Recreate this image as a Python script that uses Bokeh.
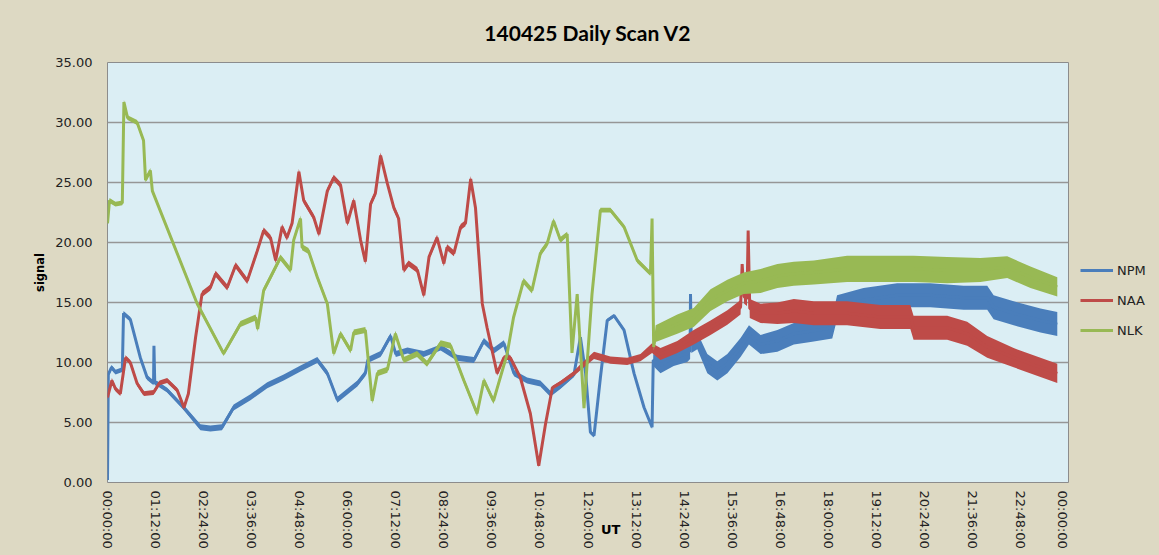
import numpy as np
from bokeh.plotting import figure
from bokeh.layouts import row
from bokeh.models import (ColumnDataSource, FixedTicker, Legend, LegendItem,
                          PrintfTickFormatter, Range1d)
from bokeh.embed import file_html
from bokeh.resources import INLINE

title_text = "140425 Daily Scan V2"
series_names = ["NPM", "NAA", "NLK"]
series_colors = ["#4a7ebb", "#be4b48", "#98b954"]
x_tick_labels = ["00:00:00", "01:12:00", "02:24:00", "03:36:00", "04:48:00", "06:00:00",
                 "07:12:00", "08:24:00", "09:36:00", "10:48:00", "12:00:00", "13:12:00",
                 "14:24:00", "15:36:00", "16:48:00", "18:00:00", "19:12:00", "20:24:00",
                 "21:36:00", "22:48:00", "00:00:00"]
y_ticks = [0, 5, 10, 15, 20, 25, 30, 35]

# (hour UT, signal, noise half-width)
npm_points = [
    (0.00, 0.2, 0.0), (0.02, 9.0, 0.2), (0.10, 9.6, 0.2), (0.20, 9.2, 0.2), (0.37, 9.4, 0.2),
    (0.40, 14.1, 0.2), (0.57, 13.6, 0.2), (0.82, 10.4, 0.2), (0.99, 8.75, 0.2), (1.15, 8.3, 0.2),
    (1.16, 11.4, 0.05), (1.18, 8.3, 0.2), (1.24, 8.25, 0.2), (1.49, 7.7, 0.2), (1.90, 6.25, 0.2),
    (2.32, 4.6, 0.25), (2.57, 4.5, 0.25), (2.86, 4.6, 0.25), (3.15, 6.25, 0.25), (3.57, 7.1, 0.25),
    (3.99, 8.1, 0.25), (4.40, 8.75, 0.25), (4.82, 9.5, 0.25), (5.24, 10.2, 0.25), (5.49, 9.1, 0.25),
    (5.74, 6.9, 0.25), (6.07, 7.8, 0.25), (6.24, 8.25, 0.25), (6.44, 9.1, 0.25), (6.50, 10.2, 0.25),
    (6.82, 10.7, 0.25), (7.07, 12.2, 0.25), (7.20, 10.7, 0.25), (7.49, 11.0, 0.25), (7.90, 10.7, 0.25),
    (8.32, 11.25, 0.25), (8.73, 10.4, 0.25), (9.15, 10.2, 0.25), (9.40, 11.8, 0.25), (9.65, 11.0, 0.25),
    (9.90, 11.6, 0.25), (10.15, 9.1, 0.25), (10.48, 8.5, 0.25), (10.81, 8.25, 0.25), (11.06, 7.4, 0.25),
    (11.31, 8.0, 0.2), (11.65, 9.0, 0.2), (11.81, 12.1, 0.15), (11.94, 9.1, 0.15), (12.06, 4.2, 0.15),
    (12.15, 3.9, 0.15), (12.31, 8.75, 0.15), (12.48, 13.5, 0.15), (12.65, 13.9, 0.15), (12.90, 12.7, 0.15),
    (13.15, 9.1, 0.15), (13.40, 6.25, 0.15), (13.60, 4.6, 0.15), (13.63, 10.2, 0.5), (13.81, 9.8, 0.7),
    (14.14, 10.4, 0.7), (14.48, 10.75, 0.7), (14.55, 11.0, 0.7), (14.56, 15.7, 0.1), (14.58, 11.5, 0.7),
    (14.73, 11.8, 0.7), (14.98, 9.9, 0.8), (15.23, 9.3, 0.8), (15.48, 9.9, 0.8), (15.81, 11.25, 0.8),
    (16.02, 12.3, 0.8), (16.31, 11.5, 0.8), (16.73, 11.8, 0.9), (17.14, 12.4, 0.9), (17.56, 12.6, 0.9),
    (18.10, 12.9, 0.9), (18.22, 14.6, 1.0), (18.88, 15.2, 1.0), (19.72, 15.6, 1.0), (20.55, 15.6, 1.0),
    (21.38, 15.4, 1.0), (21.97, 15.4, 1.0), (22.13, 14.6, 1.0), (22.63, 14.1, 1.0), (23.30, 13.5, 1.0),
    (23.72, 13.2, 1.0),
]

naa_points = [
    (0.00, 7.1, 0.2), (0.11, 8.5, 0.2), (0.20, 7.8, 0.2), (0.32, 7.4, 0.2), (0.45, 10.4, 0.2),
    (0.57, 10.0, 0.2), (0.74, 8.25, 0.2), (0.91, 7.4, 0.2), (1.15, 7.5, 0.2), (1.30, 8.3, 0.2),
    (1.49, 8.5, 0.2), (1.74, 7.7, 0.2), (1.91, 6.25, 0.2), (2.02, 7.4, 0.2), (2.20, 12.1, 0.2),
    (2.36, 15.7, 0.25), (2.57, 16.25, 0.25), (2.70, 17.4, 0.25), (2.99, 16.25, 0.25), (3.20, 18.1, 0.25),
    (3.49, 16.8, 0.25), (3.74, 19.3, 0.25), (3.90, 21.0, 0.25), (4.07, 20.4, 0.25), (4.20, 18.5, 0.25),
    (4.36, 21.3, 0.25), (4.48, 20.4, 0.25), (4.61, 21.6, 0.25), (4.78, 25.9, 0.25), (4.90, 23.5, 0.25),
    (5.15, 22.1, 0.25), (5.28, 20.7, 0.25), (5.49, 24.3, 0.25), (5.65, 25.4, 0.25), (5.82, 24.8, 0.25),
    (5.99, 21.6, 0.25), (6.15, 23.5, 0.25), (6.32, 20.2, 0.25), (6.44, 18.4, 0.25), (6.57, 23.2, 0.25),
    (6.69, 24.1, 0.25), (6.82, 27.25, 0.25), (6.99, 24.9, 0.25), (7.15, 22.9, 0.25), (7.27, 22.0, 0.25),
    (7.40, 17.7, 0.25), (7.52, 18.25, 0.25), (7.74, 17.7, 0.25), (7.90, 15.6, 0.25), (8.03, 18.8, 0.25),
    (8.23, 20.4, 0.25), (8.40, 18.25, 0.25), (8.48, 19.6, 0.25), (8.65, 19.1, 0.25), (8.82, 21.3, 0.25),
    (8.94, 21.6, 0.25), (9.07, 25.3, 0.25), (9.19, 22.9, 0.2), (9.36, 14.9, 0.2), (9.48, 12.9, 0.2),
    (9.73, 9.1, 0.2), (9.90, 10.4, 0.2), (10.06, 10.4, 0.2), (10.31, 8.75, 0.15), (10.56, 5.75, 0.15),
    (10.77, 1.4, 0.15), (10.94, 4.9, 0.15), (11.11, 7.9, 0.15), (11.31, 8.3, 0.15), (11.65, 9.1, 0.2),
    (11.81, 9.6, 0.25), (12.15, 10.6, 0.3), (12.56, 10.2, 0.3), (12.98, 10.1, 0.3), (13.31, 10.4, 0.3),
    (13.60, 11.2, 0.4), (13.81, 10.7, 0.5), (14.23, 11.3, 0.5), (14.64, 12.1, 0.6), (15.06, 12.9, 0.6),
    (15.48, 13.75, 0.6), (15.81, 14.6, 0.6), (15.85, 18.2, 0.1), (15.90, 15.5, 0.6), (15.97, 15.3, 0.6),
    (16.00, 21.0, 0.1), (16.04, 14.5, 0.8), (16.31, 14.1, 0.8), (16.73, 14.1, 0.9), (17.14, 14.3, 1.0),
    (17.64, 14.1, 1.0), (18.47, 14.1, 1.0), (19.30, 13.8, 1.0), (20.05, 13.8, 1.0), (20.13, 12.9, 1.0),
    (20.97, 12.9, 1.0), (21.47, 12.4, 1.0), (21.97, 11.3, 0.9), (22.63, 10.4, 0.8), (23.30, 9.6, 0.8),
    (23.72, 9.1, 0.8),
]

nlk_points = [
    (0.00, 21.6, 0.2), (0.05, 23.5, 0.2), (0.20, 23.2, 0.2), (0.37, 23.3, 0.2), (0.41, 31.7, 0.2),
    (0.50, 30.4, 0.2), (0.74, 30.0, 0.2), (0.90, 28.5, 0.2), (0.95, 25.2, 0.2), (1.07, 26.0, 0.2),
    (1.12, 24.3, 0.2), (2.24, 14.9, 0.2), (2.90, 10.75, 0.2), (3.32, 13.2, 0.25), (3.70, 13.75, 0.25),
    (3.75, 12.8, 0.25), (3.90, 16.0, 0.25), (4.07, 17.1, 0.25), (4.32, 18.75, 0.25), (4.57, 17.7, 0.25),
    (4.65, 20.2, 0.25), (4.82, 22.0, 0.25), (4.86, 19.6, 0.25), (5.02, 19.3, 0.25), (5.24, 17.1, 0.25),
    (5.49, 14.9, 0.25), (5.65, 10.75, 0.25), (5.82, 12.4, 0.25), (6.07, 11.0, 0.25), (6.15, 12.5, 0.25),
    (6.44, 12.7, 0.25), (6.61, 6.8, 0.25), (6.74, 9.1, 0.25), (6.99, 9.4, 0.25), (7.19, 12.4, 0.25),
    (7.40, 10.2, 0.25), (7.73, 10.7, 0.25), (7.98, 9.9, 0.25), (8.32, 11.6, 0.25), (8.57, 11.4, 0.25),
    (8.90, 8.5, 0.25), (9.23, 5.75, 0.25), (9.40, 8.5, 0.25), (9.64, 6.8, 0.25), (9.98, 10.7, 0.25),
    (10.14, 13.75, 0.25), (10.39, 16.8, 0.25), (10.60, 16.0, 0.25), (10.81, 19.1, 0.25), (10.98, 19.9, 0.25),
    (11.14, 21.8, 0.25), (11.31, 20.2, 0.25), (11.48, 20.7, 0.2), (11.60, 10.8, 0.1), (11.73, 15.7, 0.1),
    (11.90, 6.2, 0.1), (12.10, 15.7, 0.1), (12.31, 22.7, 0.2), (12.56, 22.7, 0.2), (12.90, 21.3, 0.2),
    (13.23, 18.5, 0.2), (13.56, 17.4, 0.2), (13.60, 22.0, 0.05), (13.64, 11.3, 0.3), (13.69, 12.4, 0.7),
    (14.23, 13.2, 0.8), (14.64, 13.75, 0.8), (15.06, 15.2, 0.9), (15.48, 16.0, 0.9), (15.89, 16.6, 0.9),
    (16.31, 16.8, 1.0), (16.73, 17.2, 1.0), (17.14, 17.4, 1.0), (17.64, 17.5, 1.0), (18.47, 17.8, 1.1),
    (19.30, 17.8, 1.1), (20.13, 17.8, 1.1), (20.97, 17.7, 1.1), (21.80, 17.7, 1.0), (22.47, 17.95, 0.9),
    (23.05, 17.1, 0.9), (23.72, 16.3, 0.8),
]

all_points = [npm_points, naa_points, nlk_points]

BEIGE = "#ddd9c3"

p = figure(width=1069, height=555, output_backend="svg", toolbar_location=None,
           x_range=Range1d(0, 1440), y_range=Range1d(0, 35),
           min_border_left=107, min_border_right=1, min_border_top=62, min_border_bottom=73)

p.border_fill_color = BEIGE
p.background_fill_color = "#dbeef4"
p.outline_line_color = "#8c8c8c"
p.outline_line_width = 1

p.title.text = title_text
p.title.align = "center"
p.title.text_font = "Lato"
p.title.text_font_style = "bold"
p.title.text_font_size = "21px"
p.title.text_color = "#000000"
p.title.standoff = 35

line_renderers = []
for pts, color in zip(all_points, series_colors):
    arr = np.array(pts, dtype=float)
    minutes = arr[:, 0] * 60.0
    vals = arr[:, 1]
    noise = arr[:, 2]
    src = ColumnDataSource(dict(x=minutes, y=vals, lo=vals - noise, hi=vals + noise))
    p.varea(x="x", y1="lo", y2="hi", source=src, fill_color=color, fill_alpha=1.0)
    r = p.line(x="x", y="y", source=src, line_color=color, line_width=3)
    line_renderers.append(r)

# axes
p.yaxis.ticker = FixedTicker(ticks=y_ticks)
p.yaxis.formatter = PrintfTickFormatter(format="%.2f")
p.yaxis.axis_label = "signal"
p.yaxis.axis_label_text_font = "DejaVu Sans"
p.yaxis.axis_label_text_font_style = "bold"
p.yaxis.axis_label_text_font_size = "11.5px"
p.yaxis.axis_label_text_color = "#000000"
p.yaxis.axis_label_standoff = 5

x_ticks = [72 * i for i in range(len(x_tick_labels))]
p.xaxis.ticker = FixedTicker(ticks=x_ticks)
p.xaxis.major_label_overrides = {t: lbl for t, lbl in zip(x_ticks, x_tick_labels)}
p.xaxis.major_label_orientation = -np.pi / 2
# axis title sits between the 12:00:00 and 13:12:00 labels, as in the source chart
p.xaxis.axis_label = "\u00a0" * 10 + "UT"
p.xaxis.axis_label_text_font = "DejaVu Sans"
p.xaxis.axis_label_text_font_style = "bold"
p.xaxis.axis_label_text_font_size = "13px"
p.xaxis.axis_label_text_color = "#000000"
p.xaxis.axis_label_standoff = -30

for ax in (p.xaxis, p.yaxis):
    ax.axis_line_color = None
    ax.major_tick_line_color = None
    ax.minor_tick_line_color = None
    ax.major_label_text_font = "DejaVu Sans"
    ax.major_label_text_font_size = "13px"
    ax.major_label_text_color = "#222222"
p.yaxis.major_label_standoff = 9
p.xaxis.major_label_standoff = 2

p.xgrid.grid_line_color = None
p.ygrid.ticker = FixedTicker(ticks=y_ticks)
p.ygrid.grid_line_color = "#969696"
p.ygrid.grid_line_width = 1.5

# legend panel to the right of the chart (its frame lines up with the chart frame)
pl = figure(width=90, height=555, output_backend="svg", toolbar_location=None,
            min_border=0, x_axis_type=None, y_axis_type=None,
            x_range=Range1d(0, 1), y_range=Range1d(0, 1))
pl.border_fill_color = BEIGE
pl.background_fill_color = None
pl.outline_line_color = None
pl.grid.visible = False
key_renderers = [pl.line(x=[-1], y=[-1], line_color=c, line_width=3) for c in series_colors]

legend = Legend(items=[LegendItem(label=n, renderers=[r]) for n, r in zip(series_names, key_renderers)],
                location=(11, 142), glyph_width=33, glyph_height=20, label_height=20,
                spacing=10, padding=0, margin=0, label_standoff=4,
                background_fill_alpha=0, border_line_color=None,
                label_text_font="DejaVu Sans", label_text_font_size="13px",
                label_text_color="#222222")
pl.add_layout(legend)

layout = row(p, pl, spacing=0, styles={"background-color": BEIGE})
open("out.html", "w").write(file_html(layout, INLINE))
